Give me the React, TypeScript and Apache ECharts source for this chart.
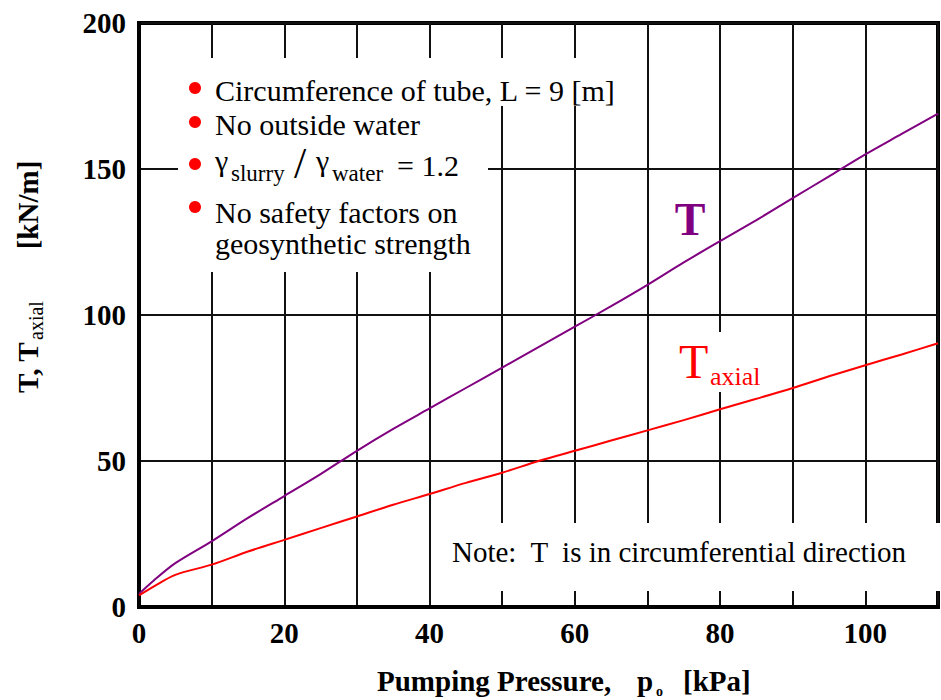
import React, { useEffect, useRef } from 'react';
import * as echarts from 'echarts';

const pressure = [0, 2, 5, 10, 15, 20, 25, 30, 35, 40, 45, 50, 55, 60, 65, 70, 75, 80, 85, 90, 95, 100, 105, 110];
const tensionCirc = [4.5, 9, 15, 22.5, 30.5, 38, 45.5, 53.5, 61, 68, 75, 82, 89, 96, 103, 110.3, 118, 125.3, 132.5, 140, 147.5, 155, 162, 169];
const tensionAxial = [4, 7, 11, 14.5, 19, 23, 27, 31, 35, 38.7, 42.5, 46, 50, 53.5, 57, 60.5, 64, 67.7, 71.3, 75, 79, 82.8, 86.5, 90.3];
const xTickLabels = [0, 20, 40, 60, 80, 100];
const notes = ['Circumference of tube, L = 9 [m]', 'No outside water', '', 'No safety factors on', 'geosynthetic strength'];

const FONT = '"Liberation Serif", "Times New Roman", serif';

export default function App() {
  const ref = useRef<HTMLDivElement>(null);
  useEffect(() => {
    if (!ref.current) return;
    const chart = echarts.init(ref.current, null, { renderer: 'svg' });
    const txt = (x: number, y: number, text: string, size: number, extra: any = {}) => ({
      type: 'text',
      x,
      y,
      z: 110,
      style: {
        text,
        fontFamily: FONT,
        fontSize: size,
        fill: '#000',
        align: 'left',
        verticalAlign: 'middle',
        ...extra,
      },
    });
    const bullet = (cy: number) => ({
      type: 'circle',
      z: 110,
      shape: { cx: 195, cy, r: 6 },
      style: { fill: '#ff0000' },
    });
    const whiteRect = (x: number, y: number, w: number, h: number) => ({
      type: 'rect',
      z: 100,
      shape: { x, y, width: w, height: h },
      style: { fill: '#fff' },
    });
    chart.setOption({
      animation: false,
      backgroundColor: '#fff',
      grid: {
        left: 139,
        top: 23,
        width: 808.5,
        height: 584,
        show: true,
        borderWidth: 4,
        borderColor: '#000',
        backgroundColor: '#fff',
      },
      xAxis: {
        type: 'value',
        min: 0,
        max: 110,
        interval: 10,
        axisLine: { show: true, onZero: false, lineStyle: { color: '#000', width: 4 } },
        axisTick: { show: false },
        splitLine: { show: true, lineStyle: { color: '#111', width: 2 } },
        axisLabel: {
          margin: 11,
          fontFamily: FONT,
          fontSize: 29,
          fontWeight: 'bold',
          color: '#000',
          formatter: (v: number) => (xTickLabels.includes(v) ? String(v) : ''),
        },
      },
      yAxis: {
        type: 'value',
        min: 0,
        max: 200,
        interval: 50,
        axisLine: { show: true, lineStyle: { color: '#000', width: 4 } },
        axisTick: { show: false },
        splitLine: { show: true, lineStyle: { color: '#111', width: 2 } },
        axisLabel: {
          margin: 13,
          fontFamily: FONT,
          fontSize: 29,
          fontWeight: 'bold',
          color: '#000',
        },
      },
      series: [
        {
          name: 'T',
          type: 'line',
          data: pressure.map((p, i) => [p, tensionCirc[i]]),
          showSymbol: false,
          smooth: 0.3,
          lineStyle: { color: '#800080', width: 2 },
          itemStyle: { color: '#800080' },
          z: 5,
        },
        {
          name: 'Taxial',
          type: 'line',
          data: pressure.map((p, i) => [p, tensionAxial[i]]),
          showSymbol: false,
          smooth: 0.3,
          lineStyle: { color: '#ff0000', width: 2 },
          itemStyle: { color: '#ff0000' },
          z: 5,
        },
      ],
      graphic: [
        whiteRect(178, 58, 447, 48),
        whiteRect(178, 58, 310, 214),
        bullet(88),
        bullet(122),
        bullet(164),
        bullet(207),
        txt(215, 90, notes[0], 30),
        txt(215, 124, notes[1], 30),
        txt(215, 160, 'γ', 30),
        txt(231, 173, 'slurry', 23),
        txt(294, 163, '/', 44),
        txt(316, 160, 'γ', 30),
        txt(332, 173, 'water', 23),
        txt(397, 165, '= 1.2', 30),
        txt(215, 212, notes[3], 30),
        txt(215, 243, notes[4], 30),
        whiteRect(440, 523, 510, 68),
        txt(452, 552, 'Note:  T  is in circumferential direction', 29),
        txt(690, 219, 'T', 46, { fontWeight: 'bold', fill: '#800080', align: 'center' }),
        whiteRect(672, 332, 92, 60),
        txt(679, 361, 'T', 48, { fill: '#ff0000' }),
        txt(710, 376, 'axial', 26, { fill: '#ff0000' }),
        txt(377, 681, 'Pumping Pressure,', 29, { fontWeight: 'bold' }),
        txt(637, 681, 'p', 29, { fontWeight: 'bold' }),
        txt(656, 691, 'o', 14, { fontWeight: 'bold' }),
        txt(683, 681, '[kPa]', 29, { fontWeight: 'bold' }),
        {
          type: 'text',
          x: 28,
          y: 393,
          rotation: Math.PI / 2,
          z: 110,
          style: { text: 'T, T', fontFamily: FONT, fontSize: 29, fontWeight: 'bold', fill: '#000', align: 'left', verticalAlign: 'middle' },
        },
        {
          type: 'text',
          x: 36,
          y: 340,
          rotation: Math.PI / 2,
          z: 110,
          style: { text: 'axial', fontFamily: FONT, fontSize: 20, fill: '#000', align: 'left', verticalAlign: 'middle' },
        },
        {
          type: 'text',
          x: 28,
          y: 205,
          rotation: Math.PI / 2,
          z: 110,
          style: { text: '[kN/m]', fontFamily: FONT, fontSize: 29, fontWeight: 'bold', fill: '#000', align: 'center', verticalAlign: 'middle' },
        },
      ],
    });
    return () => chart.dispose();
  }, []);
  return <div ref={ref} style={{ position: 'absolute', left: 0, top: 0, width: 941, height: 700 }} />;
}
